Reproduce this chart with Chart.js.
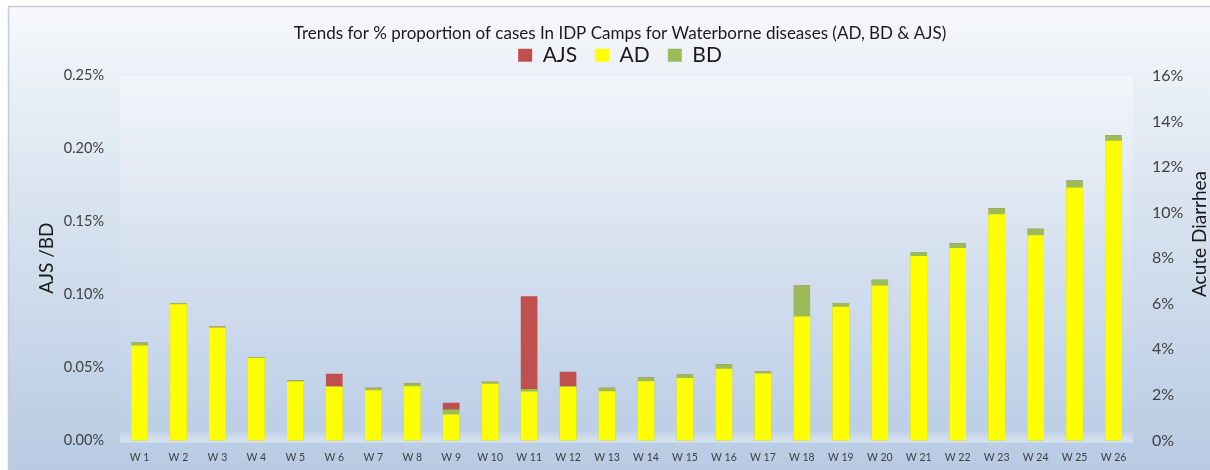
<!DOCTYPE html>
<html>
<head>
<meta charset="utf-8">
<script src="https://cdn.jsdelivr.net/npm/chart.js@4"></script>
<style>
  html, body { margin: 0; padding: 0; background: #ffffff; }
  #wrap { width: 1210px; height: 470px; }
</style>
</head>
<body>
<div id="wrap"><canvas id="myChart" width="1210" height="470"></canvas></div>
<script>
// weeks on the x axis
const weeks = ['W 1', 'W 2', 'W 3', 'W 4', 'W 5', 'W 6', 'W 7', 'W 8', 'W 9', 'W 10', 'W 11', 'W 12', 'W 13',
    'W 14', 'W 15', 'W 16', 'W 17', 'W 18', 'W 19', 'W 20', 'W 21', 'W 22', 'W 23', 'W 24', 'W 25', 'W 26'];

// Acute Diarrhea, % (right axis)
const adValues = [4.15, 5.96, 4.93, 3.60, 2.57, 2.34, 2.19, 2.37, 1.13, 2.48, 2.14, 2.34, 2.15,
    2.59, 2.73, 3.13, 2.92, 5.43, 5.85, 6.79, 8.08, 8.43, 9.91, 8.99, 11.08, 13.14];

// Bloody Diarrhea, % (left axis)
const bdValues = [0.067, 0.094, 0.078, 0.057, 0.041, 0.037, 0.036, 0.039, 0.021, 0.040, 0.035, 0.037, 0.036,
    0.043, 0.045, 0.052, 0.047, 0.106, 0.094, 0.110, 0.129, 0.135, 0.159, 0.145, 0.178, 0.209];

// AJS, % (left axis, stacked on BD)
const ajsValues = [0, 0, 0, 0, 0, 0.0086, 0, 0, 0.0046, 0, 0.0637, 0.0099, 0,
    0, 0, 0, 0, 0, 0, 0, 0, 0, 0, 0, 0, 0];

const leftTicks = [0, 0.05, 0.10, 0.15, 0.20, 0.25];
const rightTicks = [0, 2, 4, 6, 8, 10, 12, 14, 16];

const fontFamily = 'Lato, "Open Sans", sans-serif';

// background of the chart and the plot area
const backgroundPlugin = {
    id: 'bgPlugin',
    beforeDraw(chart) {
        const ctx = chart.ctx;
        const w = chart.width, h = chart.height;
        ctx.save();
        ctx.fillStyle = '#ffffff';
        ctx.fillRect(0, 0, w, h);
        let g = ctx.createLinearGradient(0, 6, 0, h);
        g.addColorStop(0, '#f6f8fb');
        g.addColorStop(0.45, '#d7e2ef');
        g.addColorStop(1, '#b8cbe3');
        ctx.fillStyle = g;
        ctx.fillRect(8, 6, w - 8, h - 6);
        ctx.strokeStyle = '#c4ccd6';
        ctx.lineWidth = 1.5;
        ctx.beginPath();
        ctx.moveTo(8.5, h);
        ctx.lineTo(8.5, 6.5);
        ctx.lineTo(w, 6.5);
        ctx.stroke();

        const a = chart.chartArea;
        g = ctx.createLinearGradient(0, a.top, 0, a.bottom);
        g.addColorStop(0, '#f3f6fa');
        g.addColorStop(0.5, '#d5e0ee');
        g.addColorStop(0.97, '#bccfe7');
        g.addColorStop(1, '#d6e1ef');
        ctx.fillStyle = g;
        ctx.fillRect(a.left, a.top, a.right - a.left, a.bottom - a.top + 2);
        ctx.restore();
    }
};

// right axis title, reading bottom to top like the left one
const rightTitlePlugin = {
    id: 'rightTitle',
    afterDraw(chart) {
        const ctx = chart.ctx;
        ctx.save();
        ctx.translate(1200, 234);
        ctx.rotate(-Math.PI / 2);
        ctx.font = '19px ' + fontFamily;
        ctx.fillStyle = '#1a1a1a';
        ctx.textAlign = 'center';
        ctx.textBaseline = 'middle';
        ctx.fillText('Acute Diarrhea', 0, 0);
        ctx.restore();
    }
};

const ctx = document.getElementById('myChart').getContext('2d');
const myChart = new Chart(ctx, {
    type: 'bar',
    data: {
        labels: weeks,
        datasets: [{
            label: 'AJS',
            data: ajsValues,
            backgroundColor: '#c0504d',
            yAxisID: 'y',
            stack: 'left',
            order: 3
        }, {
            label: 'AD',
            data: adValues,
            backgroundColor: '#ffff00',
            yAxisID: 'y1',
            stack: 'right',
            order: 1
        }, {
            label: 'BD',
            data: bdValues,
            backgroundColor: '#9bbb59',
            yAxisID: 'y',
            stack: 'left',
            order: 2
        }]
    },
    options: {
        responsive: false,
        animation: false,
        devicePixelRatio: 1,
        layout: { padding: { left: 30, right: 0, top: 0, bottom: 0 } },
        datasets: {
            bar: { grouped: false, barThickness: 16, borderWidth: 0 }
        },
        plugins: {
            title: {
                display: true,
                text: 'Trends for % proportion of cases In IDP Camps for Waterborne diseases (AD, BD & AJS)',
                color: '#1a1a1a',
                font: { family: fontFamily, size: 17, weight: 'normal' },
                padding: { top: 23.8, bottom: -17.4 }
            },
            legend: {
                display: true,
                position: 'top',
                labels: {
                    color: '#1a1a1a',
                    font: { family: fontFamily, size: 21 },
                    boxWidth: 14,
                    boxHeight: 13,
                    padding: 18,
                    sort: (a, b) => a.datasetIndex - b.datasetIndex
                }
            },
            tooltip: { enabled: false }
        },
        scales: {
            x: {
                grid: { display: false },
                border: { display: false },
                ticks: {
                    color: '#404040',
                    font: { family: fontFamily, size: 10.5 },
                    padding: 3,
                    maxRotation: 0,
                    autoSkip: false
                },
                afterFit: s => { s.height = 29.5; }
            },
            y: {
                position: 'left',
                stacked: true,
                min: 0,
                max: 0.25,
                afterBuildTicks: s => { s.ticks = leftTicks.map(v => ({ value: v })); },
                grid: { display: false },
                border: { display: false },
                ticks: {
                    color: '#404040',
                    font: { family: fontFamily, size: 14.5 },
                    padding: 8,
                    callback: v => v.toFixed(2) + '%'
                },
                title: {
                    display: true,
                    text: 'AJS /BD',
                    color: '#1a1a1a',
                    font: { family: fontFamily, size: 19 },
                    padding: { top: 5, bottom: 0 }
                },
                afterFit: s => { s.width = 90; }
            },
            y1: {
                position: 'right',
                stacked: true,
                min: 0,
                max: 16,
                afterBuildTicks: s => { s.ticks = rightTicks.map(v => ({ value: v })); },
                grid: { display: false },
                border: { display: false },
                ticks: {
                    color: '#404040',
                    font: { family: fontFamily, size: 16 },
                    padding: 11,
                    callback: v => v + '%'
                },
                afterFit: s => { s.width = 77; }
            }
        }
    },
    plugins: [backgroundPlugin, rightTitlePlugin]
});
</script>
</body>
</html>
